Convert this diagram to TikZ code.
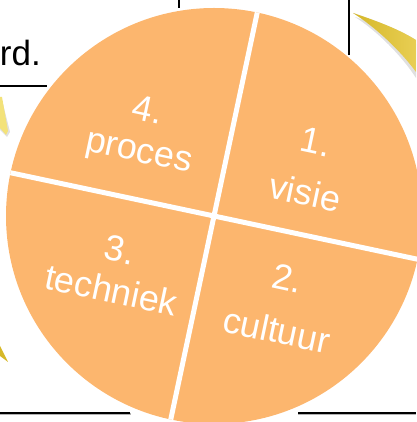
\documentclass[tikz,border=0pt]{standalone}
\usepackage{fontspec}
\setmainfont{Liberation Sans}
\usepackage{xcolor}
\usepackage{tikz}
\usetikzlibrary{positioning, calc}

\definecolor{pieorange}{RGB}{252,182,110}
\definecolor{arcyellow}{RGB}{214,184,40}
\definecolor{arclight}{RGB}{232,206,84}
\definecolor{paleyellow}{RGB}{243,226,122}

\begin{document}
\begin{tikzpicture}[
    x=1pt, y=1pt,
    wheel/.style={fill=pieorange, draw=none},
    divider/.style={white, line width=5pt},
    parttext/.style={text=white, font=\fontsize{36}{41}\selectfont, align=center, rotate=-12, inner sep=0pt},
    rule/.style={black, line width=1.6pt},
    shade/.style={fill=black!12, draw=none}
]
    \useasboundingbox (0,0) rectangle (416,422);

    % Leftovers of the slide behind the wheel
    \node[anchor=base east, inner sep=0pt, font=\fontsize{35}{41}\selectfont] (word) at (41,356) {rd.};
    \draw[rule] (0,336) -- (47,336);
    \draw[rule] (179,422) -- (179,414);
    \draw[rule] (349,422) -- (349,367);
    \draw[black!30, line width=2pt] (0,7.5) -- (131,7.5);
    \draw[rule] (0,9) -- (130,9);
    \draw[black!30, line width=2pt] (298,7.5) -- (416,7.5);
    \draw[rule] (298,9) -- (416,9);

    % Yellow arrow tips
    \fill[shade] (355,405) .. controls (382,396) and (402,388) .. (416,378) -- (416,344) .. controls (402,366) and (377,391) .. (355,405);
    \shade[left color=arcyellow, right color=arclight] (353,409) .. controls (380,400) and (400,392) .. (416,382) -- (416,350) .. controls (400,372) and (375,395) .. (353,409);
    \fill[shade] (0,320) -- (2,322) -- (10,290) -- (7,285) -- (0,292) -- cycle;
    \fill[paleyellow] (0,325) -- (2,325) -- (8,291) -- (6,287) -- (0,294) -- cycle;
    \fill[arcyellow] (0,76) -- (8,60) -- (0,66) -- cycle;

    % The wheel
    \coordinate (mid) at (214,206);
    \fill[wheel] (mid) circle (208);
    \draw[divider] ($(mid)+(78:208)$) -- ($(mid)+(258:208)$);
    \draw[divider] ($(mid)+(168:208)$) -- ($(mid)+(-12:208)$);

    % Quarter texts
    \node[parttext] (visie) at ($(mid)+(96.5,48.5)$) {1.\\[11pt]visie};
    \node[parttext] (cultuur) at ($(mid)+(68,-88.5)$) {2.\\[12pt]cultuur};
    \node[parttext] (techniek) at ($(mid)+(-98.5,-54)$) {3.\\techniek};
    \node[parttext] (proces) at ($(mid)+(-71,83)$) {4.\\proces};

\end{tikzpicture}
\end{document}
